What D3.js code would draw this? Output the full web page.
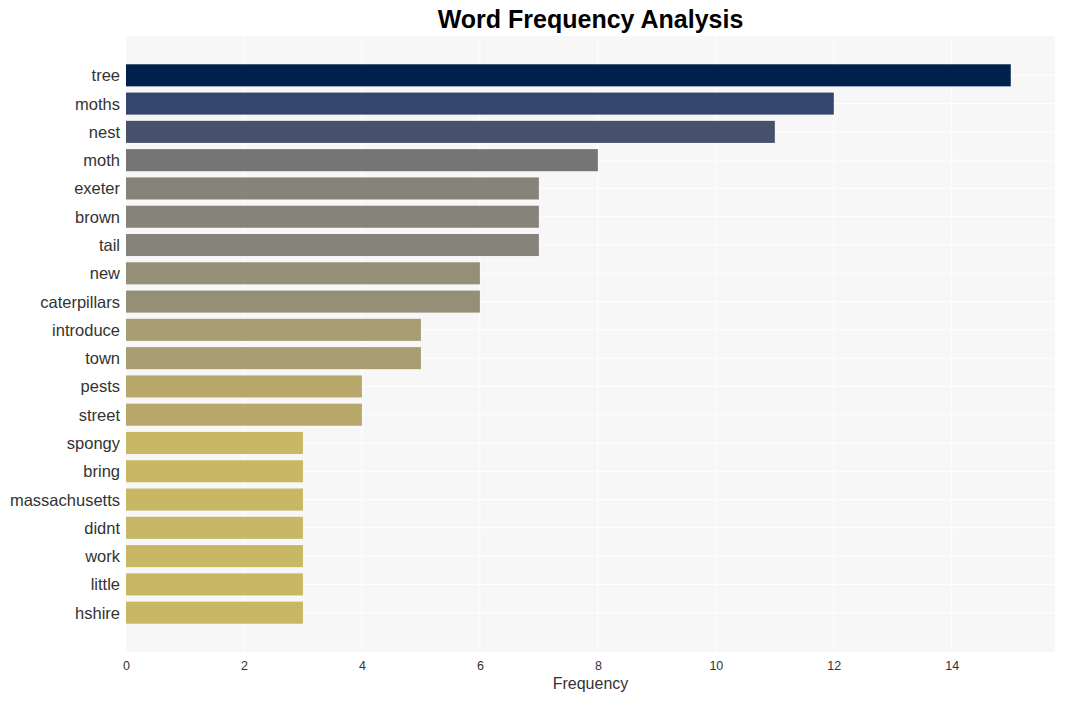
<!DOCTYPE html>
<html lang="en">
<head>
    <meta charset="UTF-8">
    <title>Word Frequency Analysis</title>
    <script src="https://cdn.jsdelivr.net/npm/d3@7"></script>
    <style>
        body { margin: 0; background: #fff; }
        text { font-family: "Liberation Sans", Arial, sans-serif; }
    </style>
</head>
<body>
    <svg width="1065" height="701"></svg>
    <script>
        const words = ["tree", "moths", "nest", "moth", "exeter", "brown", "tail", "new", "caterpillars",
            "introduce", "town", "pests", "street", "spongy", "bring", "massachusetts", "didnt", "work",
            "little", "hshire"];
        const counts = [15, 12, 11, 8, 7, 7, 7, 6, 6, 5, 5, 4, 4, 3, 3, 3, 3, 3, 3, 3];
        const barColors = ["#00214d", "#35466e", "#47506c", "#757575", "#86837b", "#86837b", "#86837b",
            "#958f77", "#958f77", "#a69d73", "#a69d73", "#b8a86c", "#b8a86c", "#c8b866", "#c8b866",
            "#c8b866", "#c8b866", "#c8b866", "#c8b866", "#c8b866"];
        const xTicks = [0, 2, 4, 6, 8, 10, 12, 14];

        const plotLeft = 126, plotRight = 1055, plotTop = 36, plotBottom = 652;
        const svg = d3.select("svg");

        const x = d3.scaleLinear().domain([0, 15.75]).range([plotLeft, plotRight]);
        const y = d3.scaleBand().domain(words).range([plotTop, plotBottom]).paddingInner(0.22).paddingOuter(1);

        // plot background
        svg.append("rect")
            .attr("x", plotLeft).attr("y", plotTop)
            .attr("width", plotRight - plotLeft).attr("height", plotBottom - plotTop)
            .attr("fill", "#f7f7f7");

        // grid lines
        svg.append("g").selectAll("line")
            .data(xTicks)
            .enter().append("line")
            .attr("x1", d => x(d)).attr("x2", d => x(d))
            .attr("y1", plotTop).attr("y2", plotBottom)
            .attr("stroke", "#fff").attr("stroke-width", 1);
        svg.append("g").selectAll("line")
            .data(words)
            .enter().append("line")
            .attr("x1", plotLeft).attr("x2", plotRight)
            .attr("y1", d => y(d) + y.bandwidth() / 2).attr("y2", d => y(d) + y.bandwidth() / 2)
            .attr("stroke", "#fff").attr("stroke-width", 1);

        // bars
        svg.append("g").selectAll("rect")
            .data(words)
            .enter().append("rect")
            .attr("x", x(0))
            .attr("y", d => y(d))
            .attr("width", (d, i) => x(counts[i]) - x(0))
            .attr("height", y.bandwidth())
            .attr("fill", (d, i) => barColors[i]);

        // axes
        const xAxis = svg.append("g")
            .attr("transform", `translate(0,${plotBottom})`)
            .call(d3.axisBottom(x).tickValues(xTicks).tickSize(0).tickPadding(9));
        xAxis.select(".domain").remove();
        xAxis.selectAll("text").attr("font-size", 12.5).attr("fill", "#333")
            .style("font-family", "'Liberation Sans', Arial, sans-serif");

        const yAxis = svg.append("g")
            .attr("transform", `translate(${plotLeft},0)`)
            .call(d3.axisLeft(y).tickSize(0).tickPadding(6));
        yAxis.select(".domain").remove();
        yAxis.selectAll("text").attr("font-size", 16.5).attr("fill", "#333")
            .attr("dy", "0.36em")
            .style("font-family", "'Liberation Sans', Arial, sans-serif");

        svg.append("text")
            .attr("x", (plotLeft + plotRight) / 2).attr("y", 689)
            .attr("text-anchor", "middle")
            .attr("font-size", 16).attr("fill", "#333")
            .text("Frequency");

        svg.append("text")
            .attr("x", (plotLeft + plotRight) / 2).attr("y", 28)
            .attr("text-anchor", "middle")
            .attr("font-size", 25).attr("font-weight", "bold").attr("fill", "#000")
            .text("Word Frequency Analysis");
    </script>
</body>
</html>
